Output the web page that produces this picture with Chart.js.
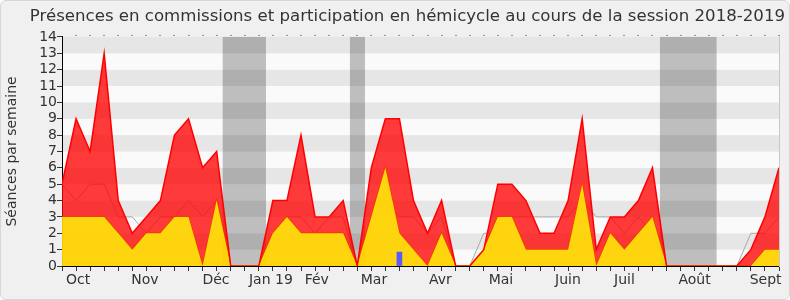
<!DOCTYPE html>
<html lang="fr">
<head>
<meta charset="UTF-8">
<title>Présences en commissions et participation en hémicycle</title>
<script src="https://cdn.jsdelivr.net/npm/chart.js"></script>
<style>
  html, body { margin: 0; padding: 0; background: #ffffff; }
  .frame {
    position: absolute; left: 0; top: 0; width: 790px; height: 300px;
    box-sizing: border-box; border: 1px solid #d6d6d6; border-radius: 6px;
    background: #f0f0f0;
  }
  .chart-box { position: absolute; left: 0; top: 0; width: 790px; height: 300px; }
</style>
</head>
<body>
<div class="frame"></div>
<div class="chart-box"><canvas id="presenceChart"></canvas></div>

<script>
// one point per week, first week of October 2018 -> last week of September 2019
const weeks = Array.from({ length: 52 }, (_, i) => i);

// total sessions per week (top of the red area)
const totalSeances = [5, 9, 7, 13, 4, 2, 3, 4, 8, 9, 6, 7, 0, 0, 0, 4, 4, 8, 3, 3,
                      4, 0, 6, 9, 9, 4, 2, 4, 0, 0, 1, 5, 5, 4, 2, 2, 4, 9, 1, 3,
                      3, 4, 6, 0, 0, 0, 0, 0, 0, 1, 3, 6];
// participation in the hémicycle (yellow area)
const hemicycle = [3, 3, 3, 3, 2, 1, 2, 2, 3, 3, 0, 4, 0, 0, 0, 2, 3, 2, 2, 2,
                   2, 0, 3, 6, 2, 1, 0, 2, 0, 0, 1, 3, 3, 1, 1, 1, 1, 5, 0, 2,
                   1, 2, 3, 0, 0, 0, 0, 0, 0, 0, 1, 1];
// median of all deputies (grey line)
const mediane = [5, 4, 5, 5, 3, 3, 2, 3, 3, 4, 3, 4, 0, 0, 0, 2, 3, 3, 2, 3,
                 3, 0, 3, 4, 3, 3, 2, 3, 0, 0, 2, 2, 3, 3, 3, 3, 3, 4, 3, 3,
                 2, 3, 2, 0, 0, 0, 0, 0, 0, 2, 2, 3];
// oral questions (blue bar)
const questions = [null, null, null, null, null, null, null, null, null, null,
                   null, null, null, null, null, null, null, null, null, null,
                   null, null, null, null, 0.85, null, null, null, null, null,
                   null, null, null, null, null, null, null, null, null, null,
                   null, null, null, null, null, null, null, null, null, null,
                   null, null];

const monthLabels = ['Oct', 'Nov', 'Déc', 'Jan 19', 'Fév', 'Mar', 'Avr', 'Mai', 'Juin', 'Juil', 'Août', 'Sept'];
const monthPositions = [1.14, 5.9, 10.95, 14.86, 18.12, 22.19, 26.92, 31.22, 35.99, 40.01, 44.99, 50.05];

// parliamentary holidays (in weeks)
const vacances = [[11.43, 14.51], [20.48, 21.55], [42.53, 46.56]];

const backgroundPlugin = {
    id: 'background',
    beforeDraw(chart) {
        const { ctx, chartArea: a, scales: { x, y } } = chart;
        ctx.save();
        // alternating horizontal stripes
        for (let v = 0; v < 14; v++) {
            ctx.fillStyle = v % 2 === 1 ? '#e6e6e6' : '#fafafa';
            const top = y.getPixelForValue(v + 1);
            const bottom = y.getPixelForValue(v);
            ctx.fillRect(a.left, top, a.right - a.left, bottom - top);
        }
        // holidays
        ctx.fillStyle = 'rgba(0, 0, 0, 0.24)';
        vacances.forEach(([from, to]) => {
            const l = x.getPixelForValue(from);
            const r = x.getPixelForValue(to);
            ctx.fillRect(l, a.top, r - l, a.bottom - a.top);
        });
        ctx.restore();
    },
    afterDraw(chart) {
        // little week marks above the plot
        const { ctx, chartArea: a, scales: { x } } = chart;
        ctx.save();
        ctx.fillStyle = '#333';
        weeks.slice(1).forEach(w => {
            ctx.fillRect(Math.round(x.getPixelForValue(w)) - 0.5, a.top - 2, 1, 1);
        });
        ctx.restore();
    }
};

Chart.defaults.font.family = "'DejaVu Sans', Verdana, sans-serif";
Chart.defaults.color = '#333';

new Chart(document.getElementById('presenceChart'), {
    type: 'line',
    data: {
        labels: weeks,
        datasets: [
            {
                label: 'Présences en commission',
                data: totalSeances,
                borderColor: '#ff0000',
                borderWidth: 1.5,
                backgroundColor: 'rgba(255, 0, 0, 0.77)',
                fill: 1,
                pointRadius: 0,
                tension: 0,
                order: 1
            },
            {
                label: 'Participation en hémicycle',
                data: hemicycle,
                borderColor: '#f2e200',
                borderWidth: 1.5,
                backgroundColor: 'rgba(255, 210, 0, 0.94)',
                fill: 'origin',
                pointRadius: 0,
                tension: 0,
                order: 2
            },
            {
                label: 'Médiane des députés',
                data: mediane,
                borderColor: '#a8a8a8',
                borderWidth: 1,
                fill: false,
                pointRadius: 0,
                tension: 0,
                order: 3
            },
            {
                type: 'bar',
                label: 'Questions orales',
                data: questions,
                backgroundColor: '#5a5aff',
                barThickness: 5,
                order: 0
            }
        ]
    },
    options: {
        responsive: true,
        maintainAspectRatio: false,
        animation: false,
        layout: { padding: { left: 4, right: 5, top: 0, bottom: 0 } },
        plugins: {
            legend: { display: false },
            tooltip: { enabled: false },
            title: {
                display: true,
                text: 'Présences en commissions et participation en hémicycle au cours de la session 2018-2019',
                align: 'end',
                color: '#333',
                font: { size: 16.6, weight: 'normal' },
                padding: { top: 7, bottom: 10 }
            }
        },
        scales: {
            x: {
                type: 'linear',
                min: 0,
                max: 51,
                offset: false,
                afterBuildTicks: scale => {
                    scale.ticks = weeks.concat(monthPositions)
                        .sort((p, q) => p - q)
                        .map(v => ({ value: v }));
                },
                afterFit: scale => { scale.height = 34; },
                ticks: {
                    autoSkip: false,
                    maxRotation: 0,
                    padding: 1,
                    color: '#333',
                    font: { size: 14 },
                    callback: value => {
                        const k = monthPositions.indexOf(value);
                        return k >= 0 ? monthLabels[k] : '';
                    }
                },
                grid: {
                    offset: false,
                    drawOnChartArea: false,
                    tickLength: 5,
                    tickColor: ctx => (ctx.tick && !Number.isInteger(ctx.tick.value)) ? 'rgba(0,0,0,0)' : '#333'
                },
                border: { color: '#000' }
            },
            y: {
                min: 0,
                max: 14,
                afterFit: scale => { scale.width = 58; },
                ticks: { stepSize: 1, autoSkip: false, padding: 0, color: '#333', font: { size: 14 } },
                grid: { drawOnChartArea: false, tickLength: 5, tickColor: '#333' },
                border: { color: '#000' },
                title: {
                    display: true,
                    text: 'Séances par semaine',
                    color: '#333',
                    font: { size: 14 },
                    padding: { top: 0, bottom: 0 }
                }
            },
            y2: {
                position: 'right',
                afterFit: scale => { scale.width = 6; },
                ticks: { display: false },
                grid: { display: false },
                border: { color: '#c8c8c8' }
            }
        }
    },
    plugins: [backgroundPlugin]
});
</script>
</body>
</html>
